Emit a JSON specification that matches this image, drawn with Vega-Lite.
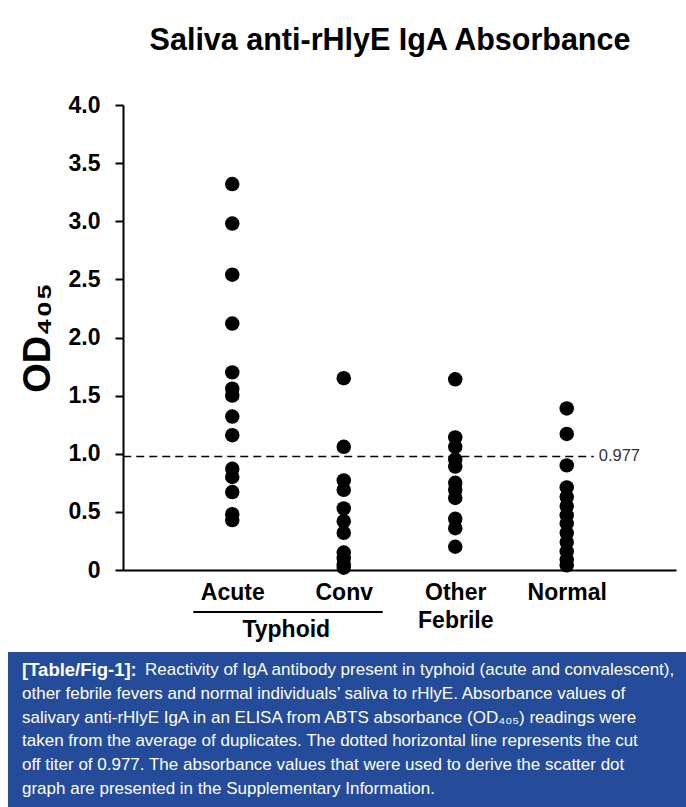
{
  "$schema": "https://vega.github.io/schema/vega-lite/v6.json",
  "background": "white",
  "padding": {"left": 8, "top": 25, "right": 0, "bottom": 0},
  "config": {"font": "Liberation Sans", "view": {"stroke": null}},
  "title": {"text": "Saliva anti-rHlyE IgA Absorbance", "fontSize": 30.5, "fontWeight": "bold", "color": "black", "anchor": "middle", "dx": 43, "offset": 38},
  "spacing": 10,
  "datasets": {
    "points": [
      {"group": "Acute", "od": 3.32}, {"group": "Acute", "od": 2.98}, {"group": "Acute", "od": 2.54},
      {"group": "Acute", "od": 2.12}, {"group": "Acute", "od": 1.70}, {"group": "Acute", "od": 1.56},
      {"group": "Acute", "od": 1.50}, {"group": "Acute", "od": 1.32}, {"group": "Acute", "od": 1.16},
      {"group": "Acute", "od": 0.87}, {"group": "Acute", "od": 0.80}, {"group": "Acute", "od": 0.67},
      {"group": "Acute", "od": 0.48}, {"group": "Acute", "od": 0.43},
      {"group": "Conv", "od": 1.65}, {"group": "Conv", "od": 1.06}, {"group": "Conv", "od": 0.77},
      {"group": "Conv", "od": 0.69}, {"group": "Conv", "od": 0.53}, {"group": "Conv", "od": 0.42},
      {"group": "Conv", "od": 0.32}, {"group": "Conv", "od": 0.15}, {"group": "Conv", "od": 0.10},
      {"group": "Conv", "od": 0.05}, {"group": "Conv", "od": 0.02},
      {"group": "Other Febrile", "od": 1.64}, {"group": "Other Febrile", "od": 1.14},
      {"group": "Other Febrile", "od": 1.06}, {"group": "Other Febrile", "od": 0.95},
      {"group": "Other Febrile", "od": 0.89}, {"group": "Other Febrile", "od": 0.75},
      {"group": "Other Febrile", "od": 0.69}, {"group": "Other Febrile", "od": 0.62},
      {"group": "Other Febrile", "od": 0.44}, {"group": "Other Febrile", "od": 0.36},
      {"group": "Other Febrile", "od": 0.20},
      {"group": "Normal", "od": 1.39}, {"group": "Normal", "od": 1.17}, {"group": "Normal", "od": 0.90},
      {"group": "Normal", "od": 0.71}, {"group": "Normal", "od": 0.63}, {"group": "Normal", "od": 0.55},
      {"group": "Normal", "od": 0.47}, {"group": "Normal", "od": 0.40}, {"group": "Normal", "od": 0.32},
      {"group": "Normal", "od": 0.24}, {"group": "Normal", "od": 0.16}, {"group": "Normal", "od": 0.09},
      {"group": "Normal", "od": 0.04}
    ],
    "cutoff": [{"cutoff": 0.977}],
    "bracket": [{"label": "Typhoid"}],
    "caption": [
      {"line": 1, "part": "head", "text": "[Table/Fig-1]:"},
      {"line": 1, "part": "body", "text": "Reactivity of IgA antibody present in typhoid (acute and convalescent),"},
      {"line": 2, "part": "body", "text": "other febrile fevers and normal individuals’ saliva to rHlyE. Absorbance values of"},
      {"line": 3, "part": "body", "text": "salivary anti-rHlyE IgA in an ELISA from ABTS absorbance (OD₄₀₅) readings were"},
      {"line": 4, "part": "body", "text": "taken from the average of duplicates. The dotted horizontal line represents the cut"},
      {"line": 5, "part": "body", "text": "off titer of 0.977. The absorbance values that were used to derive the scatter dot"},
      {"line": 6, "part": "body", "text": "graph are presented in the Supplementary Information."}
    ]
  },
  "vconcat": [
    {
      "width": 678,
      "height": 465,
      "layer": [
        {
          "data": {"name": "points"},
          "mark": {"type": "circle", "size": 210, "color": "black", "opacity": 1},
          "encoding": {
            "x": {
              "field": "group", "type": "nominal",
              "scale": {"type": "point", "domain": ["Acute", "Conv", "Other Febrile", "Normal"], "range": [115, 668], "padding": 0.98},
              "axis": {
                "title": null, "domainColor": "black", "domainWidth": 2, "ticks": false,
                "labelFontSize": 23, "labelFontWeight": "bold", "labelColor": "black", "labelAngle": 0,
                "labelPadding": 11, "labelLineHeight": 28,
                "labelExpr": "datum.label == 'Other Febrile' ? ['Other', 'Febrile'] : datum.label"
              }
            },
            "y": {
              "field": "od", "type": "quantitative",
              "scale": {"domain": [0, 4], "nice": false},
              "axis": {
                "offset": -115,
                "title": "OD₄₀₅", "titleFontSize": 38, "titleFontWeight": "bold", "titleColor": "black", "titlePadding": 11,
                "values": [0, 0.5, 1, 1.5, 2, 2.5, 3, 3.5, 4],
                "labelExpr": "datum.value == 0 ? '0' : format(datum.value, '.1f')",
                "labelFontSize": 23, "labelFontWeight": "bold", "labelColor": "black", "labelPadding": 15,
                "tickSize": 8, "tickColor": "black", "tickWidth": 2,
                "domainColor": "black", "domainWidth": 2, "grid": false
              }
            }
          }
        },
        {
          "data": {"name": "cutoff"},
          "mark": {"type": "rule", "strokeDash": [8, 5], "strokeWidth": 1.5, "color": "black", "xOffset": -109, "x2Offset": 27},
          "encoding": {
            "y": {"field": "cutoff", "type": "quantitative"},
            "x": {"datum": "Acute"},
            "x2": {"datum": "Normal"}
          }
        },
        {
          "data": {"name": "cutoff"},
          "mark": {"type": "text", "align": "left", "baseline": "middle", "dx": 32, "fontSize": 16.5, "color": "#333333"},
          "encoding": {
            "y": {"field": "cutoff", "type": "quantitative"},
            "x": {"datum": "Normal"},
            "text": {"field": "cutoff", "type": "quantitative", "format": ".3f"}
          }
        },
        {
          "data": {"name": "bracket"},
          "mark": {"type": "rule", "strokeWidth": 2, "color": "black", "yOffset": 42, "xOffset": -39, "x2Offset": 39},
          "encoding": {
            "x": {"datum": "Acute"},
            "x2": {"datum": "Conv"},
            "y": {"datum": 0}
          }
        },
        {
          "data": {"name": "bracket"},
          "mark": {"type": "text", "fontSize": 23, "fontWeight": "bold", "color": "black", "align": "center", "baseline": "alphabetic", "dx": 54, "dy": 67},
          "encoding": {
            "x": {"datum": "Acute"},
            "y": {"datum": 0},
            "text": {"field": "label"}
          }
        }
      ]
    },
    {
      "width": 678,
      "height": 155,
      "view": {"fill": "#254C9A", "stroke": null},
      "data": {"name": "caption"},
      "encoding": {
        "y": {"field": "line", "type": "ordinal", "scale": {"type": "point", "padding": 0.76}, "axis": null},
        "x": {"value": 14},
        "text": {"field": "text"}
      },
      "layer": [
        {
          "transform": [{"filter": "datum.part == 'head'"}],
          "mark": {"type": "text", "align": "left", "baseline": "middle", "color": "white", "fontSize": 18.5, "fontWeight": "bold"}
        },
        {
          "transform": [{"filter": "datum.part == 'body' && datum.line == 1"}],
          "mark": {"type": "text", "align": "left", "baseline": "middle", "color": "white", "fontSize": 17, "dx": 123}
        },
        {
          "transform": [{"filter": "datum.line > 1"}],
          "mark": {"type": "text", "align": "left", "baseline": "middle", "color": "white", "fontSize": 17}
        }
      ]
    }
  ]
}
